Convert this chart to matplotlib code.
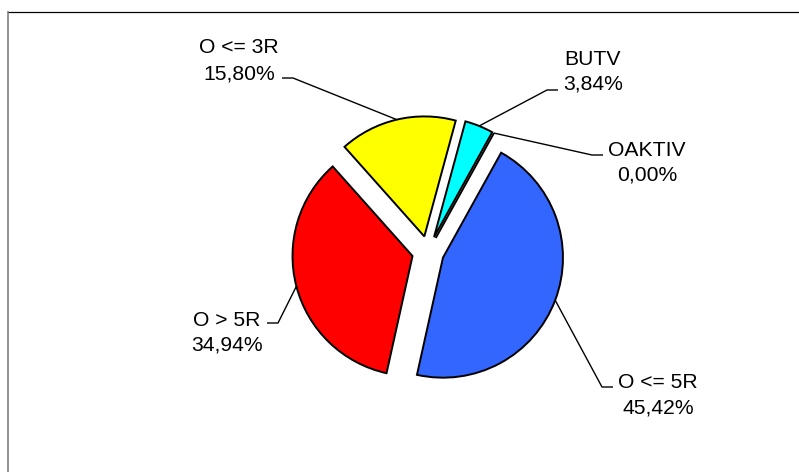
import matplotlib.pyplot as plt
from matplotlib.lines import Line2D
import math

# slice data, clockwise from the first slice
categories = ["O <= 5R", "O > 5R", "O <= 3R", "BUTV", "OAKTIV"]
shares = [45.42, 34.94, 15.80, 3.84, 0.00]
pct_labels = ["45,42%", "34,94%", "15,80%", "3,84%", "0,00%"]
colors = ["#3366FF", "#FF0000", "#FFFF00", "#00FFFF", "#9999FF"]

W, H = 799, 472
plt.rcParams['font.family'] = ['Liberation Sans', 'DejaVu Sans']

fig = plt.figure(figsize=(W / 100, H / 100), dpi=100)
ax = fig.add_axes([0, 0, 1, 1])


def py(y):
    # pixel row (from top) -> data y
    return H - y


R = 120
wedges, _ = ax.pie(shares, colors=colors, startangle=61, counterclock=False,
                   center=(428, py(252)), radius=R, explode=[16] * len(shares),
                   wedgeprops=dict(edgecolor="black", linewidth=1.4))
ax.set_xlim(0, W)
ax.set_ylim(0, H)
ax.axis("off")

# leader elbows (pixels): bend point, end point
elbows = [((602, 387), (613, 387)),
          ((278, 323), (267, 323)),
          ((293, 78), (282, 78)),
          ((547, 90), (558, 90)),
          ((592, 155), (603, 155))]
# label centre x and baseline of the two lines (pixels)
label_pos = [(658, 387.5, 413.5),
             (227, 325.5, 350.5),
             (239, 53, 79),
             (593, 65, 90),
             (647, 155.5, 180.5)]

for w, (bend, end), (tx, y1, y2), name, pct in zip(wedges, elbows, label_pos,
                                                   categories, pct_labels):
    mid = math.radians((w.theta1 + w.theta2) / 2)
    ax0 = w.center[0] + R * math.cos(mid)
    ay0 = w.center[1] + R * math.sin(mid)
    ax.plot([ax0, bend[0], end[0]], [ay0, py(bend[1]), py(end[1])],
            color="black", lw=1.0, solid_capstyle="butt", clip_on=False)
    ax.text(tx, py(y1), name, ha="center", va="baseline", fontsize=15.2)
    ax.text(tx, py(y2), pct, ha="center", va="baseline", fontsize=15.2)

# outer chart frame (only top and left edges visible)
fig.add_artist(Line2D([8 / W, 1], [1 - 12 / H, 1 - 12 / H], color="black",
                      lw=0.9, transform=fig.transFigure))
fig.add_artist(Line2D([8 / W, 8 / W], [0, 1 - 12 / H], color="#808080",
                      lw=1.2, transform=fig.transFigure))

fig.savefig("out.png", dpi=100)
